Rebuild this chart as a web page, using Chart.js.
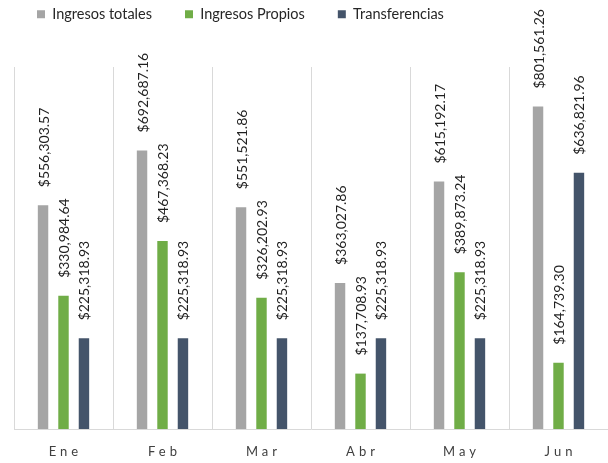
<!DOCTYPE html>
<html>
<head>
<meta charset="utf-8">
<script src="https://cdn.jsdelivr.net/npm/chart.js@4"></script>
<style>
  html, body { margin: 0; padding: 0; background: #fff; }
  #wrap { width: 608px; height: 463px; }
</style>
</head>
<body>
<div id="wrap"><canvas id="ingresosChart" width="608" height="463"></canvas></div>
<script>
const meses = ["Ene", "Feb", "Mar", "Abr", "May", "Jun"];
const ingresosTotales = [556303.57, 692687.16, 551521.86, 363027.86, 615192.17, 801561.26];
const ingresosPropios = [330984.64, 467368.23, 326202.93, 137708.93, 389873.24, 164739.30];
const transferencias = [225318.93, 225318.93, 225318.93, 225318.93, 225318.93, 636821.96];
const yMax = 900000;

const fontFamily = "Lato, 'Open Sans', sans-serif";
const legendPad = 33;
const money = v => "$" + v.toLocaleString("en-US", { minimumFractionDigits: 2, maximumFractionDigits: 2 });

// Push the plot area down below the legend
const legendSpacer = {
  id: "legendSpacer",
  afterInit(chart) {
    const fit = chart.legend.fit;
    chart.legend.fit = function () {
      fit.call(this);
      this.height = 67 + legendPad - 7;
    };
  }
};

// Vertical value labels over each bar
const barLabels = {
  id: "barLabels",
  afterDatasetsDraw(chart) {
    const ctx = chart.ctx;
    ctx.save();
    ctx.font = "14px " + fontFamily;
    ctx.fillStyle = "#1f1f1f";
    ctx.textAlign = "left";
    ctx.textBaseline = "middle";
    chart.data.datasets.forEach((ds, i) => {
      chart.getDatasetMeta(i).data.forEach((bar, j) => {
        ctx.save();
        ctx.translate(bar.x + 1, bar.y - 18);
        ctx.rotate(-Math.PI / 2);
        ctx.fillText(money(ds.data[j]), 0, 0);
        ctx.restore();
      });
    });
    ctx.restore();
  }
};

// Spaced-out month names under the axis
const monthLabels = {
  id: "monthLabels",
  afterDraw(chart) {
    const ctx = chart.ctx;
    const x = chart.scales.x;
    const spacing = 4;
    ctx.save();
    ctx.font = "13px " + fontFamily;
    ctx.fillStyle = "#404040";
    ctx.textAlign = "center";
    ctx.textBaseline = "middle";
    ctx.letterSpacing = spacing + "px";
    meses.forEach((m, i) => {
      ctx.fillText(m, x.getPixelForTick(i) + spacing / 2, 452);
    });
    ctx.restore();
  }
};

new Chart(document.getElementById("ingresosChart"), {
  type: "bar",
  data: {
    labels: meses,
    datasets: [
      { label: "Ingresos totales", data: ingresosTotales, backgroundColor: "#A5A5A5" },
      { label: "Ingresos Propios", data: ingresosPropios, backgroundColor: "#70AD47" },
      { label: "Transferencias", data: transferencias, backgroundColor: "#44546A" }
    ]
  },
  options: {
    responsive: false,
    animation: false,
    devicePixelRatio: 1,
    categoryPercentage: 0.62,
    barPercentage: 0.51,
    layout: { padding: { top: 7 - legendPad, left: 4, right: 0, bottom: 0 } },
    plugins: {
      legend: {
        position: "top",
        align: "start",
        labels: {
          boxWidth: 8,
          boxHeight: 8,
          padding: legendPad,
          color: "#262626",
          font: { family: fontFamily, size: 14.5 }
        }
      },
      tooltip: { enabled: false }
    },
    scales: {
      x: {
        grid: { display: true, color: "#D9D9D9", drawTicks: false, offset: true },
        border: { display: true, color: "#D9D9D9", width: 1 },
        ticks: { display: false },
        afterFit: s => { s.height = 34; }
      },
      y: {
        min: 0,
        max: yMax,
        display: true,
        grid: { display: false },
        border: { display: false },
        ticks: { display: false },
        afterFit: s => { s.width = 10; }
      }
    }
  },
  plugins: [legendSpacer, barLabels, monthLabels]
});
</script>
</body>
</html>
